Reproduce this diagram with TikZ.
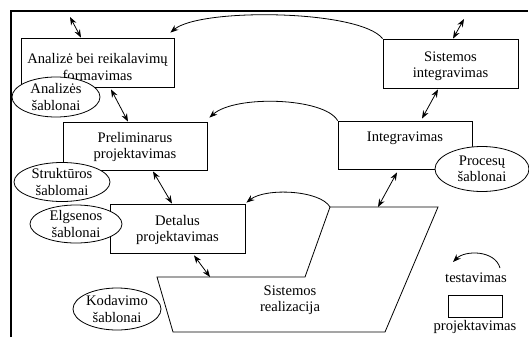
\documentclass[tikz,border=0pt]{standalone}
\usepackage{fontspec}
\setmainfont{Liberation Serif}
\usetikzlibrary{arrows.meta,shapes.geometric}
\begin{document}
\begin{tikzpicture}[x=1pt,y=-1pt,
  font=\fontsize{14.6}{16.5}\selectfont,
  box/.style={draw,line width=0.8pt,inner sep=0pt,minimum width=#1},
  pat/.style={draw,ellipse,fill=white,line width=0.8pt,inner sep=0pt,align=center},
  txt/.style={align=center,inner sep=0pt},
  dbl/.style={{Stealth[length=8pt,width=6pt]}-{Stealth[length=8pt,width=6pt]},line width=0.8pt},
  test/.style={-{Stealth[length=8pt,width=6pt]},line width=0.8pt}]
\useasboundingbox (0,0) rectangle (529,337);
% frame
\draw[line width=2pt] (11,337) -- (11,11) -- (528,11);
% boxes
\node[box=153pt,minimum height=49pt] (A) at (97.5,62.5) {};
\node[txt] (At) at (97.5,67) {Analizė bei reikalavimų\\formavimas};
\node[box=144pt,minimum height=48pt] (P) at (135,146) {};
\node[txt] (Pt) at (135,147) {Preliminarus\\projektavimas};
\node[box=135pt,minimum height=49pt] (D) at (177.5,228.5) {};
\node[txt] (Dt) at (177.5,230) {Detalus\\projektavimas};
\node[box=135pt,minimum height=49pt] (SI) at (450.5,63.5) {};
\node[txt] (SIt) at (450.5,66) {Sistemos\\integravimas};
\node[box=134pt,minimum height=48pt] (I) at (405,145) {};
\node[txt] (It) at (405,138) {Integravimas};
% Sistemos realizacija shape
\coordinate (s1) at (157,277);
\coordinate (s2) at (305,277);
\coordinate (s3) at (330,207);
\coordinate (s4) at (438,207);
\coordinate (s5) at (385,332);
\coordinate (s6) at (173,332);
\draw[line width=0.8pt] (s1) -- (s2) -- (s3) -- (s4) -- (s5) -- (s6) -- cycle;
\node[txt] (SR) at (290,300) {Sistemos\\realizacija};
\coordinate (sra) at (210,277);
\coordinate (srb) at (378,207);
% pattern ellipses
\node[pat,minimum width=88pt,minimum height=40pt] (AS) at (56,97) {Analizės\\šablonai};
\node[pat,minimum width=96pt,minimum height=39pt] (SS) at (62,182) {Struktūros\\šablomai};
\node[pat,minimum width=92pt,minimum height=38pt] (ES) at (76,224) {Elgsenos\\šablonai};
\node[pat,minimum width=88pt,minimum height=42pt] (KS) at (117,309) {Kodavimo\\šablonai};
\node[pat,minimum width=94pt,minimum height=45pt] (PS) at (482,169) {Procesų\\šablonai};
% double arrows
\coordinate (a0) at (70,17);
\coordinate (si0) at (464,19);
\draw[dbl] (a0) -- ([xshift=-16.5pt]A.north);
\draw[dbl] ([xshift=13.5pt,yshift=-2pt]A.south) -- ([xshift=-7pt]P.north);
\draw[dbl] ([xshift=18pt,yshift=-1pt]P.south) -- ([xshift=-5.5pt]D.north);
\draw[dbl] ([xshift=16.5pt,yshift=-2pt]D.south) -- (sra);
\draw[dbl] ([xshift=2.5pt]SI.north) -- (si0);
\draw[dbl] ([xshift=-12.5pt,yshift=-1pt]SI.south) -- ([xshift=17pt,yshift=2pt]I.north);
\draw[dbl] ([xshift=-8pt,yshift=-3pt]I.south) -- (srb);
% testing curves
\draw[test] (SI.north west) .. controls +(-23,-29) and +(30,-25) .. ([xshift=-4pt,yshift=5pt]A.north east);
\draw[test] (I.north west) .. controls +(-13,-23) and +(26,-23) .. ([xshift=2pt,yshift=4pt]P.north east);
\draw[test] (s3) .. controls +(-10,-17) and +(19,-15) .. ([xshift=1pt,yshift=1pt]D.north east);
% legend
\coordinate (lt1) at (500,268);
\coordinate (lt2) at (453,262);
\draw[test] (lt1) .. controls +(-5,-18) and +(12,-12) .. (lt2);
\node[txt] (lt) at (476,278) {testavimas};
\node[box=54pt,minimum height=22pt] (lb) at (475,306) {};
\node[txt] (lp) at (475,327) {projektavimas};
\end{tikzpicture}
\end{document}
